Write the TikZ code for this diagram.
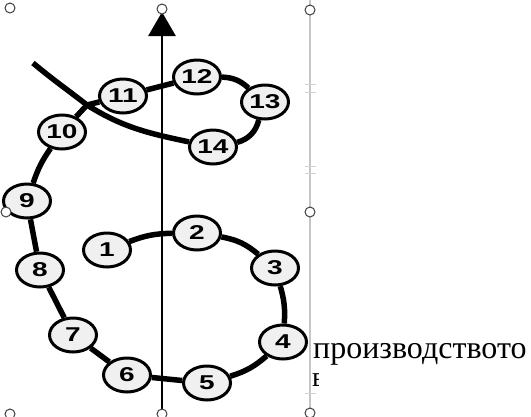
\documentclass[tikz,border=0pt]{standalone}
\usepackage{fontspec}
\setmainfont{Liberation Serif}
\newfontfamily\numfont[UprightFont=* Bold,FakeStretch=1.4]{Liberation Sans}
\usetikzlibrary{arrows.meta,shapes.geometric}

\begin{document}
\begin{tikzpicture}[
  x=1pt, y=1pt,
  num/.style={ellipse, draw, line width=3pt, fill=gray!12, minimum width=47pt,
    minimum height=34pt, inner sep=0pt, font=\numfont\fontsize{20}{20}\selectfont},
  link/.style={line width=5.5pt},
  axisline/.style={line width=2.8pt, -{Triangle[length=24pt,width=27pt]}},
  grip/.style={draw=black!75, fill=white, line width=1pt},
  edgeline/.style={draw=gray!45, line width=1.2pt}
]
  \useasboundingbox (0,0) rectangle (531,-416);
  % рамка на картинката
  \draw[edgeline] (310,0) -- (310,-416);
  \foreach \y in {-84,-92,-166,-173,-393}
    \draw[gray!35, line width=0.8pt] (305,\y) -- (316,\y);
  % ос
  \coordinate (axbot) at (162,-416);
  \coordinate (axtop) at (162,-12);
  \draw[axisline] (axbot) -- (axtop);
  % точки
  \node[num] (n1)  at (107,-250) {1};
  \node[num] (n2)  at (197,-233) {2};
  \node[num] (n3)  at (275,-268) {3};
  \node[num] (n4)  at (283,-342) {4};
  \node[num] (n5)  at (207,-383) {5};
  \node[num] (n6)  at (127,-375) {6};
  \node[num] (n7)  at (73,-335)  {7};
  \node[num] (n8)  at (40,-270)  {8};
  \node[num] (n9)  at (27,-201)  {9};
  \node[num] (n10) at (62,-132)  {10};
  \node[num] (n11) at (123,-96)  {11};
  \node[num] (n12) at (197,-77)  {12};
  \node[num] (n13) at (265,-102) {13};
  \node[num] (n14) at (213,-147) {14};
  \coordinate (cross) at (87,-105);
  \coordinate (tail) at (33,-63);
  % траектория
  \foreach \a/\b/\bb in {n1/n2/10, n2/n3/15, n3/n4/10, n4/n5/12, n5/n6/0,
      n6/n7/0, n7/n8/0, n8/n9/0, n9/n10/8, n11/n12/0, n12/n13/20, n13/n14/30}
    \draw[link] (\a) to[bend left=\bb] (\b);
  \draw[link] (n10) -- (cross) -- (n11);
  \draw[link] (n14) to[out=168,in=-32] (cross) to[out=142,in=-40] (tail);
  % текст
  \node[anchor=base west, inner sep=0pt, font=\fontsize{32}{36}\selectfont]
    (word) at (313,-358) {производството};
  \begin{scope}
    \clip (311,-370) rectangle (318,-392);
    \node[anchor=base west, inner sep=0pt, font=\fontsize{28}{32}\selectfont]
      (cut) at (312,-386) {в};
  \end{scope}
  % маркери
  \foreach \p in {(10,-8),(162,-9),(310,-10),(6,-212),(310,-212),
                  (10,-414),(162,-414),(310,-413)}
    \draw[grip] \p circle (5pt);
\end{tikzpicture}
\end{document}
